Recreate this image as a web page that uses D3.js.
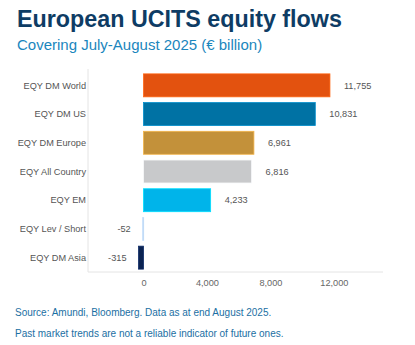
<!DOCTYPE html>
<html>
<head>
<meta charset="utf-8">
<script src="https://cdn.jsdelivr.net/npm/d3@7/dist/d3.min.js"></script>
<style>
  html, body { margin: 0; padding: 0; background: #fff; }
  svg { display: block; font-family: "Liberation Sans", Arial, sans-serif; }
</style>
</head>
<body>
<svg id="chart" width="415" height="345"></svg>
<script>
// Fund categories, top to bottom
const categories = ["EQY DM World", "EQY DM US", "EQY DM Europe", "EQY All Country", "EQY EM", "EQY Lev / Short", "EQY DM Asia"];
// Net flows, € million
const flows = [11755, 10831, 6961, 6816, 4233, -52, -315];
const barColors = ["#e3520f", "#0072a4", "#c3913a", "#c8c9cb", "#00b4ea", "#9fb6d0", "#0b2352"];
const tickValues = [0, 4000, 8000, 12000];

const svg = d3.select("#chart");
// thousands separator, plain hyphen for negatives
const fmt = v => d3.format(",")(v).replace("\u2212", "-");

// Titles
svg.append("text").attr("x", 17).attr("y", 27)
  .attr("font-size", 23.3).attr("font-weight", "bold").attr("fill", "#0e3c64")
  .text("European UCITS equity flows");
svg.append("text").attr("x", 17).attr("y", 50)
  .attr("font-size", 15).attr("fill", "#1a86bd")
  .text("Covering July-August 2025 (€ billion)");

// Scales
const x = d3.scaleLinear().domain([-3500, 15100]).range([88, 383]);
const y = d3.scaleBand().domain(categories).range([71, 272]).paddingInner(0.2).paddingOuter(0.1);

// Plot frame: left edge and bottom baseline
svg.append("line").attr("x1", x.range()[0]).attr("x2", x.range()[0])
  .attr("y1", y.range()[0] - 2).attr("y2", y.range()[1]).attr("stroke", "#e4e4e4");
svg.append("line").attr("x1", x.range()[0]).attr("x2", x.range()[1])
  .attr("y1", y.range()[1]).attr("y2", y.range()[1]).attr("stroke", "#e4e4e4");

// Bars
const rows = categories.map((c, i) => ({ c, v: flows[i], col: barColors[i] }));
svg.append("g").selectAll("rect").data(rows).join("rect")
  .attr("x", d => x(Math.min(0, d.v)))
  .attr("width", d => Math.max(1, Math.abs(x(d.v) - x(0))))
  .attr("y", d => y(d.c))
  .attr("height", y.bandwidth())
  .attr("fill", d => d.col)
  .attr("stroke", d => d3.color(d.col).brighter(0.6))
  .attr("stroke-width", 0.8);

// Value labels
svg.append("g").selectAll("text").data(rows).join("text")
  .attr("x", d => d.v >= 0 ? x(d.v) + 14 : x(d.v) - 12)
  .attr("y", d => y(d.c) + y.bandwidth() / 2 + 3.2)
  .attr("text-anchor", d => d.v >= 0 ? "start" : "end")
  .attr("font-size", 9.2).attr("fill", "#555")
  .text(d => fmt(d.v));

// Category labels
svg.append("g").selectAll("text").data(categories).join("text")
  .attr("x", 86)
  .attr("y", d => y(d) + y.bandwidth() / 2 + 3.2)
  .attr("text-anchor", "end")
  .attr("font-size", 9.2).attr("fill", "#555")
  .text(d => d);

// X axis
const xAxis = svg.append("g").attr("transform", `translate(0,${y.range()[1]})`)
  .call(d3.axisBottom(x).tickValues(tickValues).tickFormat(fmt).tickSize(0).tickPadding(7));
xAxis.select(".domain").remove();
xAxis.selectAll("text").attr("font-size", 9.2).attr("fill", "#666")
  .attr("font-family", "Liberation Sans, Arial, sans-serif");

// Footnotes
svg.append("text").attr("x", 15).attr("y", 316)
  .attr("font-size", 10).attr("fill", "#1b6fa3")
  .text("Source: Amundi, Bloomberg. Data as at end August 2025.");
svg.append("text").attr("x", 15).attr("y", 337)
  .attr("font-size", 10).attr("fill", "#1b6fa3")
  .text("Past market trends are not a reliable indicator of future ones.");
</script>
</body>
</html>
